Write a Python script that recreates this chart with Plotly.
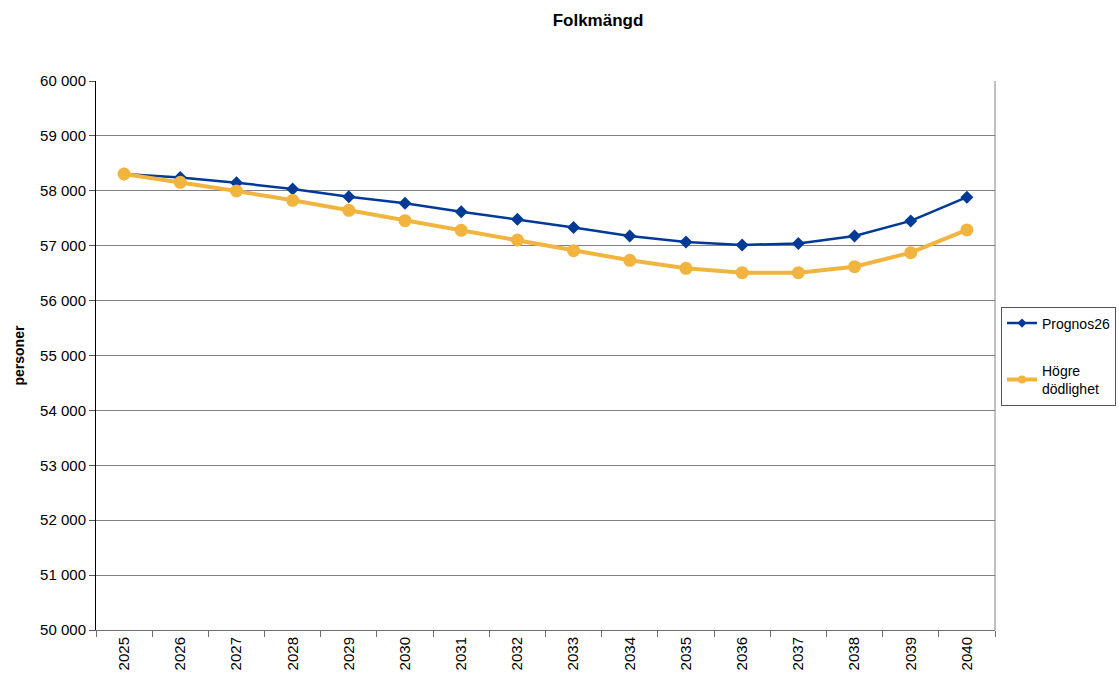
import plotly.graph_objects as go

years = [str(y) for y in range(2025, 2041)]
prognos26 = [58306, 58240, 58148, 58033, 57893, 57772, 57620, 57480,
             57330, 57177, 57068, 57013, 57042, 57177, 57452, 57884]
hogre_dodlighet = [58306, 58155, 57996, 57827, 57645, 57455, 57280, 57104,
                   56910, 56734, 56588, 56508, 56508, 56618, 56873, 57287]
y_ticks = list(range(50000, 60001, 1000))
y_labels = [f"{v // 1000} 000" for v in y_ticks]

BLUE = "#003A96"
GOLD = "#F0B43F"

W, H = 1119, 674
L, T = 96, 81
PW, PH = 899, 549

fig = go.Figure()
fig.add_trace(go.Scatter(
    x=years, y=prognos26, name="Prognos26", mode="lines+markers",
    line=dict(color=BLUE, width=2.5),
    marker=dict(symbol="diamond", size=10, color=BLUE),
    showlegend=False))
fig.add_trace(go.Scatter(
    x=years, y=hogre_dodlighet, name="Högre<br>dödlighet", mode="lines+markers",
    line=dict(color=GOLD, width=4),
    marker=dict(symbol="circle", size=13, color=GOLD),
    showlegend=False))
# legend entries (smaller symbols, as in the reference)
fig.add_trace(go.Scatter(
    x=[None], y=[None], name="Prognos26", mode="lines+markers",
    line=dict(color=BLUE, width=2.5),
    marker=dict(symbol="diamond", size=7, color=BLUE), legendgroup="a"))
fig.add_trace(go.Scatter(
    x=[None], y=[None], name="Högre<br>dödlighet", mode="lines+markers",
    line=dict(color=GOLD, width=4),
    marker=dict(symbol="circle", size=8, color=GOLD), legendgroup="b"))

fig.update_layout(
    width=W, height=H,
    paper_bgcolor="white", plot_bgcolor="white",
    font=dict(family="Liberation Sans, Arial, sans-serif", size=15, color="black"),
    title=dict(text="<b>Folkmängd</b>", x=598 / W, xanchor="center",
               y=1 - 20 / H, yanchor="middle", font=dict(size=17)),
    margin=dict(l=L, r=W - L - PW, t=T, b=H - T - PH, autoexpand=False),
    showlegend=True,
    legend=dict(x=(1001 - L) / PW, xanchor="left", y=(630 - 356) / PH, yanchor="middle",
                bordercolor="#555555", borderwidth=1, bgcolor="white",
                tracegroupgap=26, itemwidth=30,
                font=dict(size=14)),
    xaxis=dict(type="category", range=[-0.5, 15.5], automargin=False,
               showgrid=False, showline=True, linecolor="#6e6e6e",
               linewidth=1, ticks="outside", tickson="boundaries",
               ticklen=6, tickcolor="#6e6e6e", tickangle=-90,
               tickfont=dict(size=15)),
    yaxis=dict(range=[50000, 60000], tickvals=y_ticks, ticktext=y_labels,
               automargin=False, showgrid=True, gridcolor="#808080", gridwidth=1,
               showline=True, linecolor="black", linewidth=1,
               ticks="outside", ticklen=6, tickcolor="#555555",
               tickfont=dict(size=15), zeroline=False),
    annotations=[dict(text="<b>personer</b>", xref="paper", yref="paper",
                      x=(18 - L) / PW, y=0.5, xanchor="center", yanchor="middle",
                      textangle=-90, showarrow=False, font=dict(size=14))],
)
# right border of plot area
fig.add_shape(type="line", xref="paper", yref="paper", x0=1, x1=1, y0=0, y1=1,
              line=dict(color="#808080", width=1))

fig.write_html("out.html",
               config={"displayModeBar": False},
               post_script="document.body.style.margin='0';"
                           "document.body.style.overflow='hidden';")
